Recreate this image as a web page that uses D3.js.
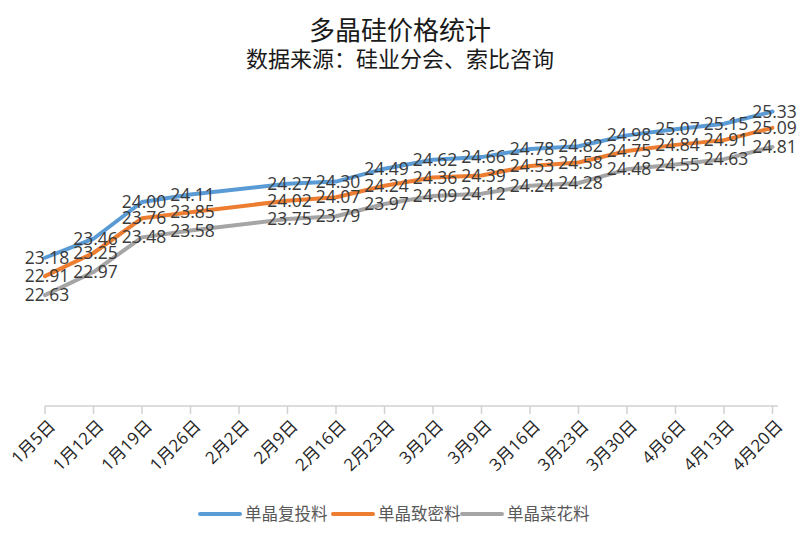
<!DOCTYPE html>
<html>
<head>
<meta charset="utf-8">
<script src="https://cdn.jsdelivr.net/npm/d3@7"></script>
<style>
    body { margin: 0; background: #fff; }
    svg { display: block; }
</style>
</head>
<body>
<svg id="chart"></svg>
<script>
const categories = ["1月5日", "1月12日", "1月19日", "1月26日", "2月2日", "2月9日", "2月16日", "2月23日",
    "3月2日", "3月9日", "3月16日", "3月23日", "3月30日", "4月6日", "4月13日", "4月20日"];

// 2月2日 has no quote (holiday), the line just joins across it
const fuTou = [23.18, 23.46, 24.00, 24.11, null, 24.27, 24.30, 24.49, 24.62, 24.66, 24.78, 24.82, 24.98, 25.07, 25.15, 25.33];
const zhiMi = [22.91, 23.25, 23.76, 23.85, null, 24.02, 24.07, 24.24, 24.36, 24.39, 24.53, 24.58, 24.75, 24.84, 24.91, 25.09];
const caiHua = [22.63, 22.97, 23.48, 23.58, null, 23.75, 23.79, 23.97, 24.09, 24.12, 24.24, 24.28, 24.48, 24.55, 24.63, 24.81];

const seriesNames = ["单晶复投料", "单晶致密料", "单晶菜花料"];
const seriesColors = ["#5b9bd5", "#ed7d31", "#a5a5a5"];

const width = 800;
const height = 543;
const numFont = "'Open Sans', 'Noto Sans CJK SC', sans-serif";
const cjkFont = "'Noto Sans CJK SC', sans-serif";

const svg = d3.select("#chart")
    .attr("width", width)
    .attr("height", height)
    .attr("viewBox", [0, 0, width, height]);

const x = d3.scalePoint()
    .domain(categories)
    .range([45, 772.5]);

const y = d3.scaleLinear()
    .domain([21, 26])
    .range([406, 66]);

// Titles
svg.append("text")
    .attr("x", 400)
    .attr("y", 40)
    .attr("text-anchor", "middle")
    .attr("font-family", cjkFont)
    .attr("font-size", "26px")
    .attr("fill", "#1a1a1a")
    .text("多晶硅价格统计");

svg.append("text")
    .attr("x", 400)
    .attr("y", 67)
    .attr("text-anchor", "middle")
    .attr("font-family", cjkFont)
    .attr("font-size", "22px")
    .attr("fill", "#1a1a1a")
    .text("数据来源：硅业分会、索比咨询");

// X axis
const axisG = svg.append("g")
    .attr("transform", `translate(0, ${y(21)})`);

axisG.append("line")
    .attr("x1", x.range()[0])
    .attr("x2", 778)
    .attr("stroke", "#d0d0d0")
    .attr("stroke-width", 1.5);

axisG.selectAll("line.tick")
    .data(categories)
    .enter()
    .append("line")
    .attr("class", "tick")
    .attr("x1", (d) => x(d))
    .attr("x2", (d) => x(d))
    .attr("y1", 0)
    .attr("y2", 8)
    .attr("stroke", "#d0d0d0")
    .attr("stroke-width", 1.5);

axisG.selectAll("text")
    .data(categories)
    .enter()
    .append("text")
    .attr("transform", (d) => `translate(${x(d) + 7}, 17) rotate(-45)`)
    .attr("text-anchor", "end")
    .attr("dy", "0.35em")
    .attr("font-family", numFont)
    .attr("font-size", "17px")
    .attr("fill", "#262626")
    .text((d) => d);

// Lines and value labels
const allSeries = [fuTou, zhiMi, caiHua];

const line = d3.line()
    .x((d) => x(d.cat))
    .y((d) => y(d.value));

allSeries.forEach((values, i) => {
    const points = categories
        .map((cat, j) => ({ cat, value: values[j] }))
        .filter((p) => p.value !== null);

    svg.append("path")
        .datum(points)
        .attr("fill", "none")
        .attr("stroke", seriesColors[i])
        .attr("stroke-width", 4)
        .attr("stroke-linejoin", "round")
        .attr("stroke-linecap", "round")
        .attr("d", line);
});

allSeries.forEach((values) => {
    const points = categories
        .map((cat, j) => ({ cat, value: values[j] }))
        .filter((p) => p.value !== null);

    svg.append("g")
        .selectAll("text")
        .data(points)
        .enter()
        .append("text")
        .attr("x", (d) => x(d.cat) + 2)
        .attr("y", (d) => y(d.value))
        .attr("dy", "0.35em")
        .attr("text-anchor", "middle")
        .attr("font-family", numFont)
        .attr("font-size", "17.5px")
        .attr("fill", "#3a3a3a")
        .text((d) => d.value.toFixed(2));
});

// Legend
const legendX = [200, 333, 462];
const legend = svg.append("g")
    .attr("transform", "translate(0, 514)");

seriesNames.forEach((name, i) => {
    legend.append("line")
        .attr("x1", legendX[i])
        .attr("x2", legendX[i] + 40)
        .attr("stroke", seriesColors[i])
        .attr("stroke-width", 4)
        .attr("stroke-linecap", "round");

    legend.append("text")
        .attr("x", legendX[i] + 45)
        .attr("dy", "0.35em")
        .attr("font-family", cjkFont)
        .attr("font-size", "16.5px")
        .attr("fill", "#595959")
        .text(name);
});
</script>
</body>
</html>
